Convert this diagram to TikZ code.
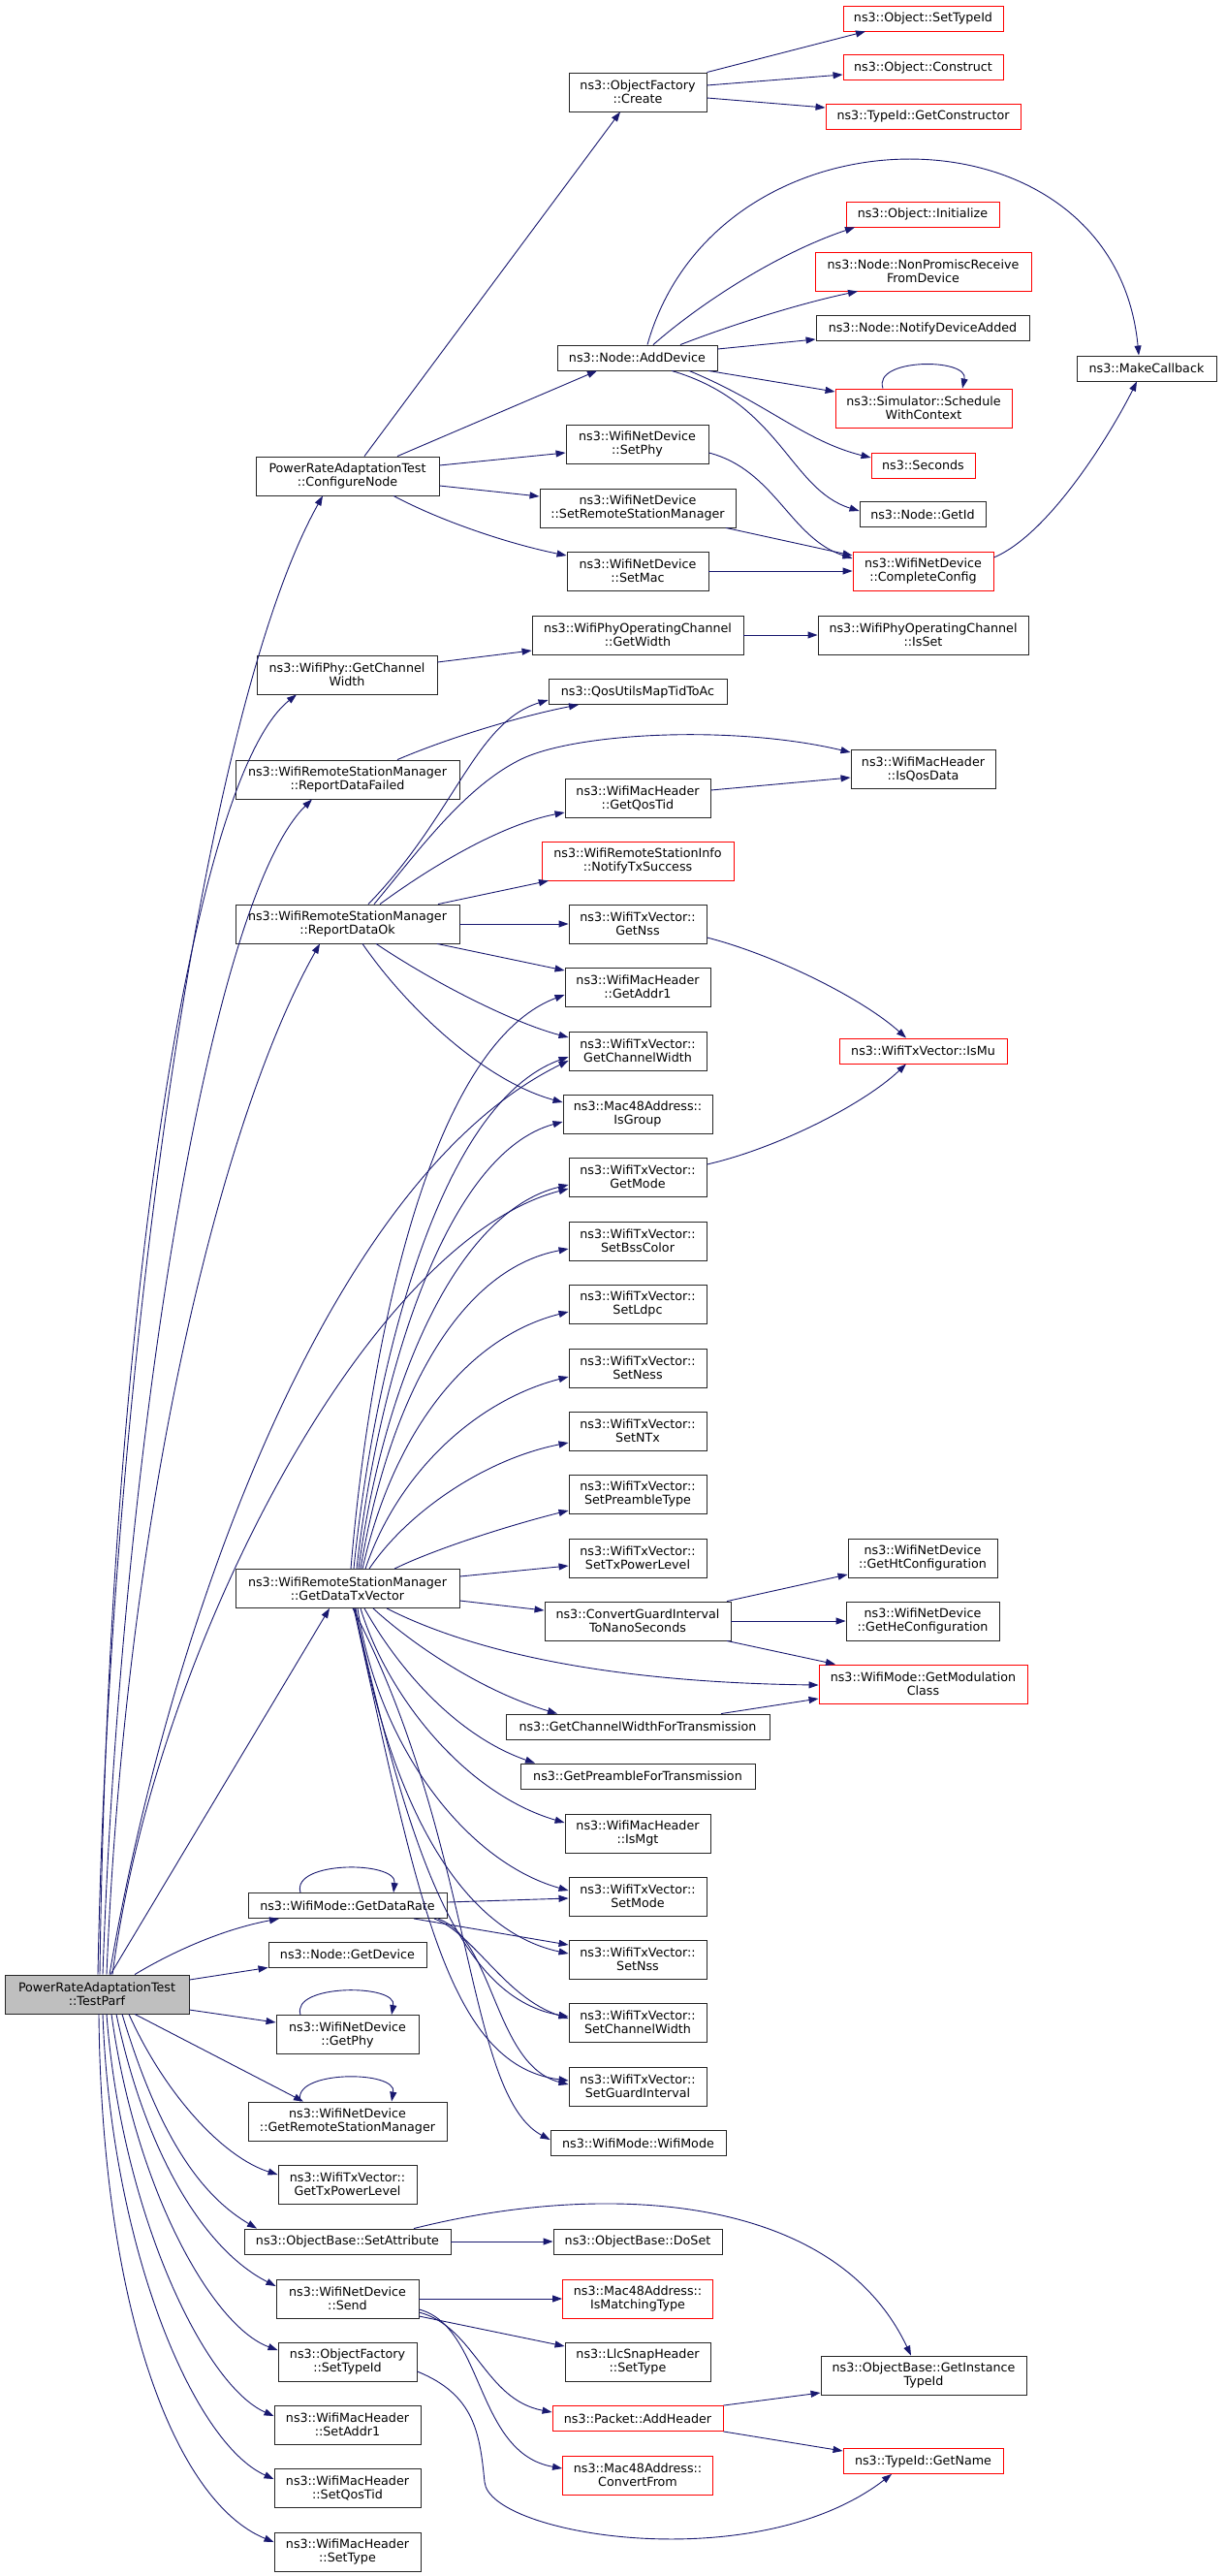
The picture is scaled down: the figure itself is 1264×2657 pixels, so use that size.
\documentclass[tikz,border=0pt]{standalone}
\usepackage{fontspec}
\newfontfamily\dx{DejaVu Sans}
\usetikzlibrary{arrows.meta}
\definecolor{edgec}{RGB}{25,25,112}
\definecolor{boxgray}{RGB}{191,191,191}
\tikzset{
  nb/.style={draw=black!85, line width=0.9pt, fill=white, inner sep=0pt, align=center,
    font=\dx\fontsize{12.7}{14}\selectfont},
  nr/.style={nb, draw=red},
  one/.style={minimum height=26pt},
  two/.style={minimum height=40pt},
  bw/.style={minimum width=#1pt},
  e/.style={draw=edgec, line width=0.9pt, -{Triangle[length=10pt,width=7pt]}},
}
\begin{document}
\begin{tikzpicture}[x=1pt,y=-1pt]
\fill[white] (0,0) rectangle (1264,2657);
\useasboundingbox (0,0) rectangle (1264,2657);
% column 1
\node[nb,two,bw=190,fill=boxgray] (tp) at (100,2057) {PowerRateAdaptationTest\\::TestParf};
% column 2
\node[nb,two,bw=189] (cn) at (358.5,491) {PowerRateAdaptationTest\\::ConfigureNode};
\node[nb,two,bw=186] (gcw) at (358,696) {ns3::WifiPhy::GetChannel\\Width};
\node[nb,two,bw=231] (rdf) at (358.5,804) {ns3::WifiRemoteStationManager\\::ReportDataFailed};
\node[nb,two,bw=231] (rdo) at (358.5,953) {ns3::WifiRemoteStationManager\\::ReportDataOk};
\node[nb,two,bw=231] (gdtx) at (358.5,1638.5) {ns3::WifiRemoteStationManager\\::GetDataTxVector};
\node[nb,one,bw=205] (gdr) at (358.5,1965.5) {ns3::WifiMode::GetDataRate};
\node[nb,one,bw=163] (gdev) at (358.5,2016) {ns3::Node::GetDevice};
\node[nb,two,bw=147] (gphy) at (358.5,2098.5) {ns3::WifiNetDevice\\::GetPhy};
\node[nb,two,bw=205] (grsm) at (358.5,2188) {ns3::WifiNetDevice\\::GetRemoteStationManager};
\node[nb,two,bw=143] (gtpl) at (358.5,2253) {ns3::WifiTxVector::\\GetTxPowerLevel};
\node[nb,one,bw=213] (sattr) at (358.5,2312) {ns3::ObjectBase::SetAttribute};
\node[nb,two,bw=147] (send) at (358.5,2371) {ns3::WifiNetDevice\\::Send};
\node[nb,two,bw=143] (ofst) at (358.5,2436) {ns3::ObjectFactory\\::SetTypeId};
\node[nb,two,bw=151] (sa1) at (358.5,2501) {ns3::WifiMacHeader\\::SetAddr1};
\node[nb,two,bw=151] (sqt) at (358.5,2566.5) {ns3::WifiMacHeader\\::SetQosTid};
\node[nb,two,bw=151] (stype) at (358.5,2632) {ns3::WifiMacHeader\\::SetType};
% column 3
\node[nb,two,bw=142] (ofc) at (658,95) {ns3::ObjectFactory\\::Create};
\node[nb,one,bw=165] (adddev) at (657.5,369) {ns3::Node::AddDevice};
\node[nb,two,bw=147] (setphy) at (657.5,458) {ns3::WifiNetDevice\\::SetPhy};
\node[nb,two,bw=202] (srsm) at (658,524) {ns3::WifiNetDevice\\::SetRemoteStationManager};
\node[nb,two,bw=146] (setmac) at (658,589) {ns3::WifiNetDevice\\::SetMac};
\node[nb,two,bw=218] (gwidth) at (658,655) {ns3::WifiPhyOperatingChannel\\::GetWidth};
\node[nb,one,bw=184] (qos) at (658,713.5) {ns3::QosUtilsMapTidToAc};
\node[nb,two,bw=150] (gqt) at (658,823) {ns3::WifiMacHeader\\::GetQosTid};
\node[nr,two,bw=198] (nts) at (658,888) {ns3::WifiRemoteStationInfo\\::NotifyTxSuccess};
\node[nb,two,bw=142] (gnss) at (658,953) {ns3::WifiTxVector::\\GetNss};
\node[nb,two,bw=150] (ga1) at (658,1018) {ns3::WifiMacHeader\\::GetAddr1};
\node[nb,two,bw=142] (gchw) at (658,1084) {ns3::WifiTxVector::\\GetChannelWidth};
\node[nb,two,bw=154] (isg) at (658,1149) {ns3::Mac48Address::\\IsGroup};
\node[nb,two,bw=142] (gmode) at (658,1214) {ns3::WifiTxVector::\\GetMode};
\node[nb,two,bw=142] (sbss) at (658,1280) {ns3::WifiTxVector::\\SetBssColor};
\node[nb,two,bw=142] (sldpc) at (658,1345) {ns3::WifiTxVector::\\SetLdpc};
\node[nb,two,bw=142] (sness) at (658,1411) {ns3::WifiTxVector::\\SetNess};
\node[nb,two,bw=142] (sntx) at (658,1476) {ns3::WifiTxVector::\\SetNTx};
\node[nb,two,bw=142] (spre) at (658,1541) {ns3::WifiTxVector::\\SetPreambleType};
\node[nb,two,bw=142] (stxp) at (658,1607) {ns3::WifiTxVector::\\SetTxPowerLevel};
\node[nb,two,bw=192] (cgi) at (658,1672) {ns3::ConvertGuardInterval\\ToNanoSeconds};
\node[nb,one,bw=272] (gcwft) at (658,1781) {ns3::GetChannelWidthForTransmission};
\node[nb,one,bw=242] (gpft) at (658,1832) {ns3::GetPreambleForTransmission};
\node[nb,two,bw=150] (ismgt) at (658,1891) {ns3::WifiMacHeader\\::IsMgt};
\node[nb,two,bw=142] (smode) at (658,1956) {ns3::WifiTxVector::\\SetMode};
\node[nb,two,bw=142] (snss) at (658,2021) {ns3::WifiTxVector::\\SetNss};
\node[nb,two,bw=142] (schw) at (658,2086) {ns3::WifiTxVector::\\SetChannelWidth};
\node[nb,two,bw=142] (sgi) at (658,2152) {ns3::WifiTxVector::\\SetGuardInterval};
\node[nb,one,bw=181] (wm) at (658.5,2210.5) {ns3::WifiMode::WifiMode};
\node[nb,one,bw=174] (doset) at (658,2312) {ns3::ObjectBase::DoSet};
\node[nr,two,bw=155] (imt) at (658,2371) {ns3::Mac48Address::\\IsMatchingType};
\node[nb,two,bw=150] (llc) at (658,2436) {ns3::LlcSnapHeader\\::SetType};
\node[nr,one,bw=176] (addh) at (658,2494.5) {ns3::Packet::AddHeader};
\node[nr,two,bw=155] (cfrom) at (658,2553) {ns3::Mac48Address::\\ConvertFrom};
% column 4
\node[nr,one,bw=165] (ostid) at (952.5,19) {ns3::Object::SetTypeId};
\node[nr,one,bw=165] (ocons) at (952.5,69.5) {ns3::Object::Construct};
\node[nr,one,bw=201] (gcons) at (952.5,120) {ns3::TypeId::GetConstructor};
\node[nr,one,bw=158] (oinit) at (952,221) {ns3::Object::Initialize};
\node[nr,two,bw=223] (npr) at (952.5,280) {ns3::Node::NonPromiscReceive\\FromDevice};
\node[nb,one,bw=220] (nda) at (952,338.5) {ns3::Node::NotifyDeviceAdded};
\node[nr,two,bw=182] (swc) at (953,421) {ns3::Simulator::Schedule\\WithContext};
\node[nr,one,bw=107] (secs) at (952.5,480) {ns3::Seconds};
\node[nb,one,bw=130] (gid) at (952,530.5) {ns3::Node::GetId};
\node[nr,two,bw=145] (cc) at (952.5,589) {ns3::WifiNetDevice\\::CompleteConfig};
\node[nb,two,bw=217] (isset) at (952.5,655) {ns3::WifiPhyOperatingChannel\\::IsSet};
\node[nb,two,bw=149] (iqd) at (952.5,793) {ns3::WifiMacHeader\\::IsQosData};
\node[nr,one,bw=173] (ismu) at (952.5,1084) {ns3::WifiTxVector::IsMu};
\node[nb,two,bw=154] (ghtc) at (952,1607) {ns3::WifiNetDevice\\::GetHtConfiguration};
\node[nb,two,bw=158] (ghec) at (952,1672) {ns3::WifiNetDevice\\::GetHeConfiguration};
\node[nr,two,bw=215] (gmc) at (952.5,1737) {ns3::WifiMode::GetModulation\\Class};
\node[nb,two,bw=212] (gitid) at (953,2450) {ns3::ObjectBase::GetInstance\\TypeId};
\node[nr,one,bw=165] (gname) at (952.5,2538.5) {ns3::TypeId::GetName};
% column 5
\node[nb,one,bw=144] (mcb) at (1183,380) {ns3::MakeCallback};

% ---- edges: ConfigureNode
\draw[e] (cn.north -| 376,0) -- (ofc.south -| 640,0);
\draw[e] (cn.north -| 410,0) -- (adddev.south -| 616,0);
\draw[e] (cn.east |- 0,480) -- (setphy.west |- 0,467);
\draw[e] (cn.east |- 0,501) -- (srsm.west |- 0,512);
\draw[e] (cn.south -| 406,0) .. controls (460,540) and (530,562) .. (setmac.west |- 0,573);
% ObjectFactory::Create
\draw[e] (ofc.north east) -- (ostid.south -| 893,0);
\draw[e] (ofc.east |- 0,88) -- (ocons.west |- 0,77);
\draw[e] (ofc.east |- 0,101) -- (gcons.west |- 0,111);
% AddDevice
\draw[e] (adddev.north -| 674,0) .. controls (720,315) and (800,262) .. (oinit.south -| 882,0);
\draw[e] (adddev.north -| 702,0) .. controls (760,333) and (830,312) .. (npr.south -| 885,0);
\draw[e] (adddev.east |- 0,360) -- (nda.west |- 0,350);
\draw[e] (adddev.south -| 731,0) -- (swc.west |- 0,404);
\draw[e] (adddev.south -| 711,0) .. controls (790,415) and (830,455) .. (secs.west |- 0,472);
\draw[e] (adddev.south -| 693,0) .. controls (805,415) and (815,505) .. (gid.west |- 0,527);
\draw[e] (adddev.north -| 668,0) .. controls (740,100) and (1150,100) .. (mcb.north -| 1175,0);
\draw[e] (swc.north -| 911,0) .. controls (900,369) and (1000,369) .. (swc.north -| 993,0);
% CompleteConfig
\draw[e] (setphy.east |- 0,467) .. controls (800,485) and (815,555) .. (cc.west |- 0,576);
\draw[e] (srsm.south -| 749,0) -- (cc.west |- 0,573);
\draw[e] (setmac.east) -- (cc.west);
\draw[e] (cc.east |- 0,575) .. controls (1085,550) and (1150,440) .. (mcb.south -| 1173,0);
% channel width
\draw[e] (gcw.east |- 0,683) -- (gwidth.west |- 0,671);
\draw[e] (gwidth.east) -- (isset.west);
% ReportDataFailed / Ok
\draw[e] (rdf.north -| 410,0) .. controls (470,758) and (545,737) .. (qos.south -| 597,0);
\draw[e] (rdo.north -| 380,0) .. controls (470,840) and (490,745) .. (qos.west |- 0,722);
\draw[e] (rdo.north -| 386,0) .. controls (430,880) and (480,810) .. (540,782) .. controls (600,755) and (760,748) .. (iqd.west |- 0,776);
\draw[e] (rdo.north -| 392,0) .. controls (450,890) and (520,850) .. (gqt.west |- 0,838);
\draw[e] (rdo.north -| 452,0) -- (nts.south -| 566,0);
\draw[e] (rdo.east) -- (gnss.west);
\draw[e] (rdo.south -| 451,0) -- (ga1.west |- 0,1001);
\draw[e] (rdo.south -| 388,0) .. controls (450,1015) and (530,1055) .. (gchw.west |- 0,1070);
\draw[e] (rdo.south -| 374,0) .. controls (420,1040) and (500,1115) .. (isg.west |- 0,1137);
\draw[e] (gqt.east |- 0,815) -- (iqd.west |- 0,802);
% IsMu
\draw[e] (gnss.east |- 0,967) .. controls (800,985) and (890,1030) .. (ismu.north -| 935,0);
\draw[e] (gmode.east |- 0,1201) .. controls (800,1185) and (890,1140) .. (ismu.south -| 935,0);
% TestParf upward
\draw[e] (tp.north -| 101,0) .. controls (112,1450) and (205,740) .. (cn.south -| 333,0);
\draw[e] (tp.north -| 103,0) .. controls (112,1350) and (200,800) .. (gcw.south -| 306,0);
\draw[e] (tp.north -| 106,0) .. controls (125,1500) and (215,930) .. (rdf.south -| 322,0);
\draw[e] (tp.north -| 110,0) .. controls (130,1550) and (230,1150) .. (rdo.south -| 330,0);
\draw[e] (tp.north -| 113,0) .. controls (170,1700) and (330,1220) .. (gchw.west |- 0,1094);
\draw[e] (tp.north -| 116,0) .. controls (160,1700) and (380,1280) .. (gmode.west |- 0,1226);
\draw[e] (tp.north -| 114,0) -- (gdtx.south -| 340,0);
% TestParf right / down
\draw[e] (tp.north -| 139,0) .. controls (180,2012) and (230,1990) .. (gdr.south -| 288,0);
\draw[e] (tp.east |- 0,2042) -- (gdev.south west);
\draw[e] (tp.east |- 0,2073) -- (gphy.west |- 0,2086);
\draw[e] (tp.south -| 139,0) -- (grsm.north -| 313,0);
\draw[e] (tp.south -| 133,0) .. controls (170,2160) and (230,2225) .. (gtpl.west |- 0,2243);
\draw[e] (tp.south -| 126,0) .. controls (160,2190) and (200,2260) .. (sattr.north -| 265,0);
\draw[e] (tp.south -| 120,0) .. controls (150,2220) and (210,2320) .. (send.west |- 0,2358);
\draw[e] (tp.south -| 115,0) .. controls (140,2260) and (220,2400) .. (ofst.west |- 0,2424);
\draw[e] (tp.south -| 110,0) .. controls (125,2280) and (210,2460) .. (sa1.west |- 0,2492);
\draw[e] (tp.south -| 106,0) .. controls (115,2320) and (200,2520) .. (sqt.west |- 0,2557);
\draw[e] (tp.south -| 102,0) .. controls (105,2380) and (180,2580) .. (stype.west |- 0,2622);
% self loops
\draw[e] (gdr.north -| 310,0) .. controls (300,1919) and (410,1919) .. (gdr.north -| 406,0);
\draw[e] (gphy.north -| 310,0) .. controls (300,2046) and (410,2046) .. (gphy.north -| 404,0);
\draw[e] (grsm.north -| 310,0) .. controls (300,2135) and (410,2135) .. (grsm.north -| 404,0);
% GetDataTxVector upward
\draw[e] (gdtx.north -| 362,0) .. controls (380,1400) and (440,1080) .. (ga1.west |- 0,1026);
\draw[e] (gdtx.north -| 365,0) .. controls (385,1420) and (450,1140) .. (gchw.west |- 0,1090);
\draw[e] (gdtx.north -| 368,0) .. controls (390,1420) and (460,1190) .. (isg.west |- 0,1157);
\draw[e] (gdtx.north -| 370,0) .. controls (395,1430) and (470,1250) .. (gmode.west |- 0,1222);
\draw[e] (gdtx.north -| 372,0) .. controls (400,1450) and (470,1310) .. (sbss.west |- 0,1288);
\draw[e] (gdtx.north -| 374,0) .. controls (405,1480) and (480,1380) .. (sldpc.west |- 0,1353);
\draw[e] (gdtx.north -| 377,0) .. controls (410,1520) and (490,1445) .. (sness.west |- 0,1420);
\draw[e] (gdtx.north -| 381,0) .. controls (420,1560) and (500,1505) .. (sntx.west |- 0,1488);
\draw[e] (gdtx.north -| 407,0) .. controls (450,1597) and (530,1572) .. (spre.west |- 0,1558);
\draw[e] (gdtx.east |- 0,1626) -- (stxp.west |- 0,1615);
\draw[e] (gdtx.east |- 0,1651) -- (cgi.west |- 0,1661);
% GetDataTxVector downward
\draw[e] (gdtx.south -| 399,0) .. controls (470,1695) and (600,1735) .. (gmc.west |- 0,1738);
\draw[e] (gdtx.south -| 385,0) .. controls (430,1700) and (500,1745) .. (gcwft.north -| 575,0);
\draw[e] (gdtx.south -| 376,0) .. controls (410,1720) and (470,1790) .. (gpft.north -| 552,0);
\draw[e] (gdtx.south -| 372,0) .. controls (400,1750) and (480,1850) .. (ismgt.west |- 0,1880);
\draw[e] (gdtx.south -| 369,0) .. controls (390,1800) and (480,1920) .. (smode.west |- 0,1950);
\draw[e] (gdtx.south -| 367,0) .. controls (400,1850) and (470,1990) .. (snss.west |- 0,2015);
\draw[e] (gdtx.south -| 366,0) .. controls (420,1900) and (470,2060) .. (schw.west |- 0,2080);
\draw[e] (gdtx.south -| 365,0) .. controls (430,1950) and (460,2130) .. (sgi.west |- 0,2146);
\draw[e] (gdtx.south -| 364,0) .. controls (490,1900) and (480,2160) .. (wm.west |- 0,2207);
% GetDataRate
\draw[e] (gdr.east |- 0,1962) -- (smode.west |- 0,1958);
\draw[e] (gdr.south -| 427,0) -- (snss.west |- 0,2006);
\draw[e] (gdr.south -| 448,0) .. controls (490,1995) and (520,2060) .. (schw.west |- 0,2082);
\draw[e] (gdr.south -| 452,0) .. controls (510,2000) and (510,2130) .. (sgi.west |- 0,2150);
% ConvertGuardInterval, GetChannelWidthForTransmission
\draw[e] (cgi.north -| 750,0) -- (ghtc.west |- 0,1624);
\draw[e] (cgi.east) -- (ghec.west);
\draw[e] (cgi.south -| 750,0) -- (gmc.north -| 862,0);
\draw[e] (gcwft.north -| 744,0) -- (gmc.west |- 0,1752);
% SetAttribute
\draw[e] (sattr.east) -- (doset.west);
\draw[e] (sattr.north -| 427,0) .. controls (620,2250) and (860,2260) .. (gitid.north -| 940,0);
% Send
\draw[e] (send.east) -- (imt.west);
\draw[e] (send.east |- 0,2389) -- (llc.west |- 0,2420);
\draw[e] (send.east |- 0,2385) .. controls (490,2400) and (500,2475) .. (addh.west |- 0,2488);
\draw[e] (send.east |- 0,2382) .. controls (500,2400) and (490,2530) .. (cfrom.west |- 0,2546);
% ObjectFactory::SetTypeId
\draw[e] (ofst.east |- 0,2446) .. controls (490,2470) and (495,2510) .. (500,2560) .. controls (505,2615) and (780,2660) .. (gname.south -| 920,0);
% AddHeader
\draw[e] (addh.north east) -- (gitid.west |- 0,2468);
\draw[e] (addh.south east) -- (gname.west |- 0,2528);
\end{tikzpicture}
\end{document}
